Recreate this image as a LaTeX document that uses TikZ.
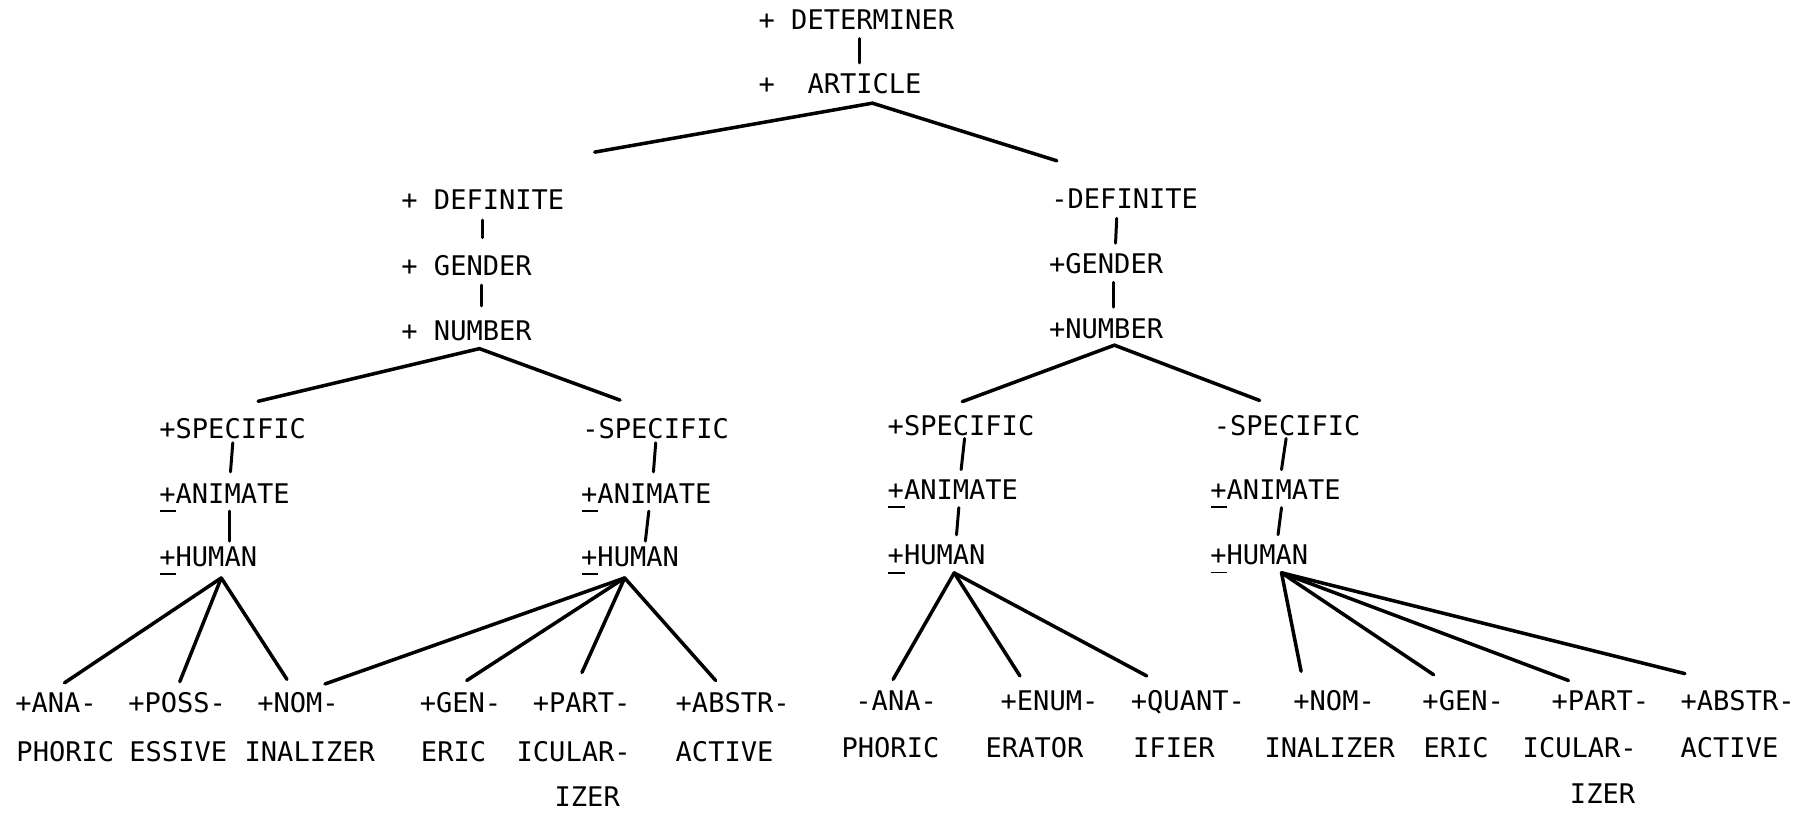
\documentclass[tikz,border=0pt]{standalone}
\usepackage{fontspec}
\setmainfont{DejaVu Sans Mono}
\usetikzlibrary{calc}

% plus sign with a bar under it
\newcommand{\pmsign}{\makebox[0pt][l]{\hspace{0.02em}\rule[-0.32em]{0.6em}{0.07em}}+}

\begin{document}
\begin{tikzpicture}[x=0.02305cm, y=-0.02305cm,
  feat/.style={anchor=west, inner xsep=0pt, inner ysep=7pt, text height=11.2pt, text depth=0pt,
    font=\fontsize{15.4}{18}\selectfont},
  fan/.style={line width=2pt, line cap=round},
  vline/.style={line width=1.7pt, line cap=round}]

% Page
\useasboundingbox[fill=white] (0,0) rectangle (1568,705);

% Top
\node[feat] (det) at (658,17) {+ DETERMINER};
\node[feat] (art) at (658,73) {+\ \ ARTICLE};

% Definite side
\node[feat] (defL) at (348,173.5) {+ DEFINITE};
\node[feat] (genL) at (348,230.8) {+ GENDER};
\node[feat] (numL) at (348,287) {+ NUMBER};

\node[feat] (specA) at (138,371.7) {+SPECIFIC};
\node[feat] (aniA) at (138,428) {\pmsign ANIMATE};
\node[feat] (humA) at (138,483) {\pmsign HUMAN};

\node[feat] (specB) at (505,371.7) {-SPECIFIC};
\node[feat] (aniB) at (504,428) {\pmsign ANIMATE};
\node[feat] (humB) at (504,483) {\pmsign HUMAN};

% Indefinite side
\node[feat] (defR) at (912,172) {-DEFINITE};
\node[feat] (genR) at (910,228.5) {+GENDER};
\node[feat] (numR) at (910,285) {+NUMBER};

\node[feat] (specC) at (770,369) {+SPECIFIC};
\node[feat] (aniC) at (770,425) {\pmsign ANIMATE};
\node[feat] (humC) at (770,481.6) {\pmsign HUMAN};

\node[feat] (specD) at (1053,369) {-SPECIFIC};
\node[feat] (aniD) at (1050,425) {\pmsign ANIMATE};
\node[feat] (humD) at (1050,481.5) {\pmsign HUMAN};

% Leaves, definite side
\node[feat] (anaA) at (13,610) {+ANA-};
\node[feat] (anaA2) at (14,652) {PHORIC};
\node[feat] (possA) at (111,610) {+POSS-};
\node[feat] (possA2) at (112,652) {ESSIVE};
\node[feat] (nomA) at (223,610) {+NOM-};
\node[feat] (nomA2) at (212,652) {INALIZER};
\node[feat] (gnrA) at (364,610) {+GEN-};
\node[feat] (gnrA2) at (365,652) {ERIC};
\node[feat] (partA) at (462,610) {+PART-};
\node[feat] (partA2) at (448,652) {ICULAR-};
\node[feat] (partA3) at (481,691) {IZER};
\node[feat] (abstrA) at (586,610) {+ABSTR-};
\node[feat] (abstrA2) at (586,652) {ACTIVE};

% Leaves, indefinite side
\node[feat] (anaB) at (742,608) {-ANA-};
\node[feat] (anaB2) at (730,649) {PHORIC};
\node[feat] (enumB) at (868,608) {+ENUM-};
\node[feat] (enumB2) at (855,649) {ERATOR};
\node[feat] (quantB) at (981,608) {+QUANT-};
\node[feat] (quantB2) at (983,649) {IFIER};
\node[feat] (nomB) at (1122,608) {+NOM-};
\node[feat] (nomB2) at (1097,649) {INALIZER};
\node[feat] (gnrB) at (1234,608) {+GEN-};
\node[feat] (gnrB2) at (1235,649) {ERIC};
\node[feat] (partB) at (1346,608) {+PART-};
\node[feat] (partB2) at (1321,649) {ICULAR-};
\node[feat] (partB3) at (1362,689) {IZER};
\node[feat] (abstrB) at (1458,608) {+ABSTR-};
\node[feat] (abstrB2) at (1458,649) {ACTIVE};

% Vertical links
\draw[vline] ($(det.south west)+(88,-3)$) -- ($(art.north west)+(88,1)$);
\draw[vline] ($(defL.south west)+(71,-2)$) -- ($(genL.north west)+(71,-5)$);
\draw[vline] ($(genL.south west)+(70,-3)$) -- ($(numL.north west)+(70,-2)$);
\draw[vline] ($(specA.south west)+(64,-7)$) -- ($(aniA.north west)+(62,1)$);
\draw[vline] ($(aniA.south west)+(61,-4)$) -- ($(humA.north west)+(61,6)$);
\draw[vline] ($(specB.south west)+(64,-7)$) -- ($(aniB.north west)+(63,1)$);
\draw[vline] ($(aniB.south west)+(59,-4)$) -- ($(humB.north west)+(56,6)$);
\draw[vline] ($(defR.south west)+(57,-2)$) -- ($(genR.north west)+(58,2)$);
\draw[vline] ($(genR.south west)+(56,-3)$) -- ($(numR.north west)+(56,1)$);
\draw[vline] ($(specC.south west)+(67,-8)$) -- ($(aniC.north west)+(64,2)$);
\draw[vline] ($(aniC.south west)+(62,-4)$) -- ($(humC.north west)+(60,2)$);
\draw[vline] ($(specD.south west)+(63,-8)$) -- ($(aniD.north west)+(62,2)$);
\draw[vline] ($(aniD.south west)+(62,-4)$) -- ($(humD.north west)+(59,2)$);

% Branch points
\coordinate (artJ) at ($(art.south west)+(99,-3)$);
\coordinate (numLJ) at ($(numL.south west)+(68,-4)$);
\coordinate (numRJ) at ($(numR.south west)+(57,-5)$);
\coordinate (humAJ) at ($(humA.south west)+(54,-1)$);
\coordinate (humBJ) at ($(humB.south west)+(38,-1)$);
\coordinate (humCJ) at ($(humC.south west)+(58,-4)$);
\coordinate (humDJ) at ($(humD.south west)+(62,-4)$);

% Fans
\draw[fan] ($(defL.north west)+(168,-22)$) -- (artJ) -- ($(defR.north west)+(5,-13)$);
\draw[fan] ($(specA.north west)+(86,-4)$) -- (numLJ) -- ($(specB.north west)+(33,-5)$);
\draw[fan] ($(specC.north west)+(65,-1)$) -- (numRJ) -- ($(specD.north west)+(40,-2)$);

\foreach \n/\dx/\dy in {anaA/43/2, possA/45/1, nomA/26/-1}
  \draw[fan] (humAJ) -- ($(\n.north west)+(\dx,\dy)$);
\foreach \n/\dx/\dy in {nomA/59/3, gnrA/41/0, partA/43/-7, abstrA/35/0}
  \draw[fan] (humBJ) -- ($(\n.north west)+(\dx,\dy)$);
\foreach \n/\dx/\dy in {anaB/33/1, enumB/17/-2, quantB/14/-2}
  \draw[fan] (humCJ) -- ($(\n.north west)+(\dx,\dy)$);
\foreach \n/\dx/\dy in {nomB/7/-6, gnrB/10/-3, partB/15/2, abstrB/4/-4}
  \draw[fan] (humDJ) -- ($(\n.north west)+(\dx,\dy)$);

\end{tikzpicture}
\end{document}
